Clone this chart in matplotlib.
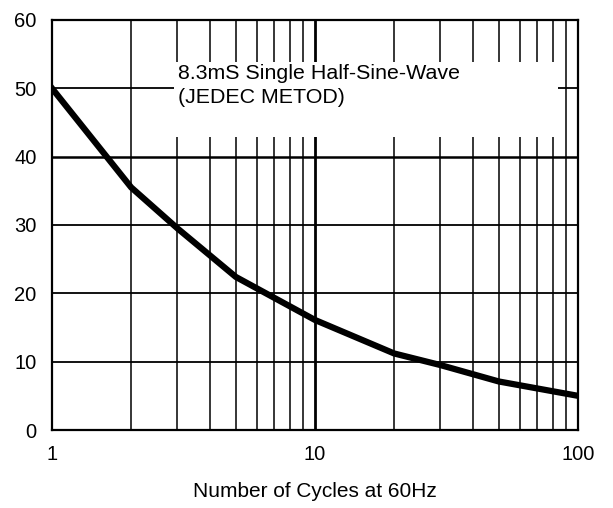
import matplotlib
matplotlib.use('Agg')
import matplotlib.pyplot as plt
from matplotlib.patches import Rectangle
import numpy as np

plt.rcParams['font.family'] = ['Liberation Sans', 'DejaVu Sans']

cycles = [1, 2, 3, 5, 10, 20, 30, 50, 100]
current = [50.0, 35.5, 29.5, 22.4, 16.1, 11.2, 9.5, 7.1, 5.0]

y_ticks = [0, 10, 20, 30, 40, 50, 60]
x_ticks = [1, 10, 100]
x_ticklabels = ['1', '10', '100']
note = '8.3mS Single Half-Sine-Wave\n(JEDEC METOD)'

fig = plt.figure(figsize=(6.13, 5.08), dpi=100)
ax = fig.add_axes([52 / 613, 78 / 508, 526 / 613, 410 / 508])
ax.set_xscale('log')
ax.set_xlim(1, 100)
ax.set_ylim(0, 60)

# grid lines by hand, so the 10 line can be heavier
for dec in (1, 10):
    for k in range(2, 10):
        ax.axvline(dec * k, color='black', lw=1.1, zorder=1)
ax.axvline(10, color='black', lw=2.0, zorder=1)
for yv in y_ticks[1:-1]:
    ax.axhline(yv, color='black', lw=1.8 if yv == 40 else 1.3, zorder=1)

# white label box over the grid
ax.add_patch(Rectangle((2.92, 42.9), 83.9 - 2.92, 53.9 - 42.9,
                       facecolor='white', edgecolor='none', zorder=2))
ax.text(3.02, 53.6, note, fontsize=15.4, va='top', ha='left',
        linespacing=1.35, zorder=3)

ax.plot(cycles, current, color='black', lw=4.5, solid_joinstyle='round', zorder=4)

ax.set_yticks(y_ticks)
ax.set_xticks(x_ticks)
ax.set_xticklabels(x_ticklabels)
ax.xaxis.set_minor_locator(matplotlib.ticker.NullLocator())
ax.tick_params(axis='both', length=0, labelsize=14.5)
ax.tick_params(axis='x', pad=11)
ax.tick_params(axis='y', pad=11)
for s in ax.spines.values():
    s.set_linewidth(1.6)
ax.set_xlabel('Number of Cycles at 60Hz', fontsize=15, labelpad=13)

fig.savefig('out.png', dpi=100)
